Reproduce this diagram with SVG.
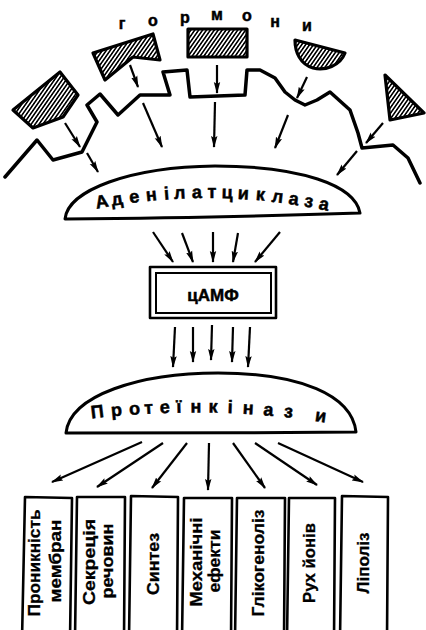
<svg xmlns="http://www.w3.org/2000/svg" width="426" height="630" viewBox="0 0 426 630">
<style>
.ln{fill:none;stroke:#000;stroke-width:3.5;stroke-linejoin:round;stroke-linecap:round}
.shape{stroke:#000;stroke-width:3.2;stroke-linejoin:round;fill:url(#hatch)}
.dome{fill:#fff;stroke:#000;stroke-width:3;stroke-linejoin:round}
.arr{fill:none;stroke:#000;stroke-width:2.2;marker-end:url(#ah)}
.box{fill:#fff;stroke:#000;stroke-width:2.6;stroke-linejoin:round}
.lt{font-family:"Liberation Sans",Arial,sans-serif;font-weight:bold;fill:#000;stroke:#000;stroke-width:0.5;text-anchor:middle}
.bt{font-family:"Liberation Sans",Arial,sans-serif;font-weight:bold;font-size:17px;fill:#000;stroke:#000;stroke-width:0.3;text-anchor:middle}
</style>
<defs>
<pattern id="hatch" patternUnits="userSpaceOnUse" width="3.2" height="10" patternTransform="rotate(35)">
<rect x="0" y="0" width="3.2" height="10" fill="#fff"/>
<rect x="0" y="0" width="1.6" height="10" fill="#000"/>
</pattern>
<marker id="ah" markerUnits="userSpaceOnUse" markerWidth="12" markerHeight="8" viewBox="0 0 12 8" refX="11" refY="4" orient="auto">
<path d="M0,0.8 L12,4 L0,7.2 L2,4 Z" fill="#000"/>
</marker>
</defs>
<rect width="426" height="630" fill="#fff"/>

<g id="hormones">
<text class="lt" font-size="16" x="122 153 185 217 247 275 307" y="29 26 23 20 21 27 31">гормони</text>
<polygon id="h1" class="shape" points="13,110 60,72 78,95 63,117 33,128"/>
<polygon id="h2" class="shape" points="93,53 153,34 160,60 133,57 105,80"/>
<rect id="h3" class="shape" x="188" y="29" width="59" height="28" stroke-width="4"/>
<path id="h4" class="shape" d="M295,40 L345,53 C340,66 325,71 313,68 C300,64 295,52 295,40 Z"/>
<polygon id="h5" class="shape" points="385,75 424,113 390,120"/>
</g>

<g id="membrane">
<path class="ln" d="M5,177 L37,140 L53,160 L82,152 L97,122 L87,105 L100,94 L118,115 L140,95 L170,95 L163,72 L187,70 L190,97 L245,95 L247,70 L260,70 L275,78 L285,92 L295,100 L305,105 L317,100 L330,92 L350,110 L358,133 L362,148 L393,145 L408,158 L420,183"/>
</g>

<g id="adenylate-cyclase">
<path class="dome" d="M65,219 C68,190 130,167 215,166 C300,166 355,185 360,213 C270,216 160,218 65,219 Z"/>
<text class="lt" font-size="18" x="103 118 135 152 167 180 197 212 227 243 260 277 293 308 323" y="208.7 206 203.3 201.2 199.8 198.9 198.2 198 198.2 198.9 200.1 201.8 203.9 206.3 209.1" rotate="-11 -9.6 -7.9 -6.2 -4.6 -3.3 -1.5 0 1.5 3.2 4.9 6.7 8.3 9.8 11.3">Аденілатциклаза</text>
</g>

<g id="camp">
<rect class="box" x="150" y="267" width="126" height="51" stroke-width="2.5"/>
<rect fill="none" stroke="#000" stroke-width="2" x="156" y="273" width="115" height="40"/>
<text class="lt" font-size="17" x="213" y="301">цАМФ</text>
</g>

<g id="protein-kinases">
<path class="dome" d="M66,433 C70,395 140,373 218,373 C300,373 352,395 356,432 C260,433 160,433 66,433 Z"/>
<text class="lt" font-size="18" x="98 117 135 149 165 179 196 213 230 248 268 288 320" y="418.5 416.5 415 414 413.2 412.8 412.5 412.6 413 413.8 415.2 416.9 420.9" rotate="-6.8 -5.5 -4.3 -3.4 -2.3 -1.4 -0.3 0.9 2 3.2 4.5 5.8 7.9">Протеїнкінази</text>
</g>

<g id="connectors">
<line class="arr" x1="65" y1="123" x2="80" y2="147"/>
<line class="arr" x1="87" y1="153" x2="98" y2="172"/>
<line class="arr" x1="130" y1="65" x2="138" y2="87"/>
<line class="arr" x1="143" y1="103" x2="162" y2="147"/>
<line class="arr" x1="217" y1="65" x2="217" y2="93"/>
<line class="arr" x1="215" y1="102" x2="214" y2="147"/>
<line class="arr" x1="307" y1="77" x2="297" y2="98"/>
<line class="arr" x1="288" y1="115" x2="275" y2="148"/>
<line class="arr" x1="383" y1="123" x2="366" y2="143"/>
<line class="arr" x1="357" y1="151" x2="337" y2="175"/>

<line class="arr" x1="153" y1="232" x2="173" y2="262"/>
<line class="arr" x1="182" y1="233" x2="193" y2="262"/>
<line class="arr" x1="213" y1="232" x2="213" y2="262"/>
<line class="arr" x1="238" y1="233" x2="233" y2="262"/>
<line class="arr" x1="280" y1="232" x2="255" y2="262"/>

<line class="arr" x1="175" y1="327" x2="173" y2="367"/>
<line class="arr" x1="193" y1="327" x2="193" y2="362"/>
<line class="arr" x1="212" y1="325" x2="211" y2="360"/>
<line class="arr" x1="233" y1="327" x2="232" y2="362"/>
<line class="arr" x1="250" y1="327" x2="248" y2="367"/>

<line class="arr" x1="142" y1="442" x2="52" y2="482"/>
<line class="arr" x1="163" y1="443" x2="97" y2="487"/>
<line class="arr" x1="187" y1="443" x2="152" y2="488"/>
<line class="arr" x1="209" y1="443" x2="208" y2="490"/>
<line class="arr" x1="233" y1="443" x2="265" y2="488"/>
<line class="arr" x1="255" y1="443" x2="317" y2="485"/>
<line class="arr" x1="278" y1="443" x2="363" y2="482"/>
</g>

<g id="effect-1">
<path class="box" d="M22,640 L25,497 L72,498 L70,640"/>
<text class="bt" transform="translate(40,563) rotate(-90)" textLength="107" lengthAdjust="spacingAndGlyphs">Проникність</text>
<text class="bt" transform="translate(61,561) rotate(-90)" textLength="83" lengthAdjust="spacingAndGlyphs">мембран</text>
</g>
<g id="effect-2">
<path class="box" d="M75,640 L77,497 L125,497 L124,640"/>
<text class="bt" transform="translate(95,562) rotate(-90)" textLength="86" lengthAdjust="spacingAndGlyphs">Секреція</text>
<text class="bt" transform="translate(113,561) rotate(-90)" textLength="75" lengthAdjust="spacingAndGlyphs">речовин</text>
</g>
<g id="effect-3">
<path class="box" d="M129,640 L131,496 L178,497 L177,640"/>
<text class="bt" transform="translate(159,564) rotate(-90)" textLength="62" lengthAdjust="spacingAndGlyphs">Синтез</text>
</g>
<g id="effect-4">
<path class="box" d="M182,640 L184,498 L232,498 L231,640"/>
<text class="bt" transform="translate(202,562) rotate(-90)" textLength="89" lengthAdjust="spacingAndGlyphs">Механічні</text>
<text class="bt" transform="translate(220,561) rotate(-90)" textLength="63" lengthAdjust="spacingAndGlyphs">ефекти</text>
</g>
<g id="effect-5">
<path class="box" d="M235,640 L237,498 L285,498 L284,640"/>
<text class="bt" transform="translate(264,563) rotate(-90)" textLength="107" lengthAdjust="spacingAndGlyphs">Глікогеноліз</text>
</g>
<g id="effect-6">
<path class="box" d="M287,640 L289,498 L335,498 L334,640"/>
<text class="bt" transform="translate(315,563) rotate(-90)" textLength="80" lengthAdjust="spacingAndGlyphs">Рух йонів</text>
</g>
<g id="effect-7">
<path class="box" d="M340,640 L342,496 L388,497 L387,640"/>
<text class="bt" transform="translate(369,563) rotate(-90)" textLength="61" lengthAdjust="spacingAndGlyphs">Ліполіз</text>
</g>
</svg>
